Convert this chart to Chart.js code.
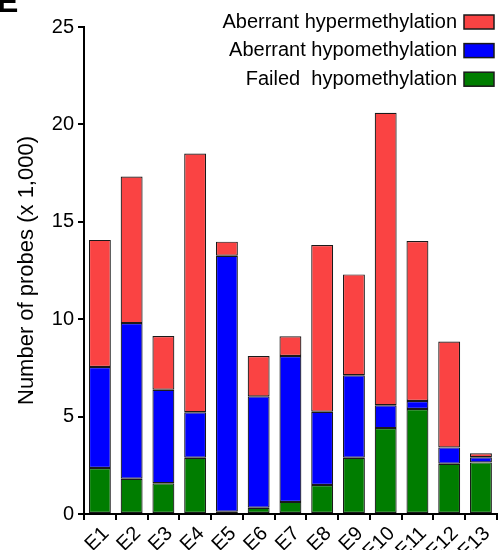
<!DOCTYPE html>
<html>
<head>
<meta charset="utf-8">
<script src="https://cdn.jsdelivr.net/npm/chart.js@4.4.1/dist/chart.umd.min.js"></script>
<style>
html,body{margin:0;padding:0;background:#fff;}
#wrap{width:500px;height:550px;position:relative;}
</style>
</head>
<body>
<div id="wrap"><canvas id="c" width="500" height="550"></canvas></div>
<script>
// data (x 1,000 probes)
var labels=["E1","E2","E3","E4","E5","E6","E7","E8","E9","E10","E11","E12","E13"];
var failedHypo=[2.36,1.81,1.58,2.89,0.12,0.32,0.62,1.49,2.89,4.41,5.39,2.58,2.65];
var aberrantHypo=[5.19,7.99,4.80,2.33,13.14,5.72,7.49,3.76,4.23,1.17,0.41,0.84,0.26];
var aberrantHyper=[6.52,7.52,2.76,13.28,0.72,2.07,1.01,8.56,5.18,15.02,8.21,5.43,0.21];
var seriesNames=["Failed  hypomethylation","Aberrant hypomethylation","Aberrant hypermethylation"];
var yMin=0,yMax=25,yStep=5;

var FONT="Arial, 'Liberation Sans', sans-serif";
var cols={green:"#007d00",blue:"#0000ff",red:"#fa4343",line:"#1a1a1a"};

// legend on the right, text then box, stacked top-down (top series first)
var sideLegend={
  id:"sideLegend",
  afterDraw:function(chart){
    var ctx=chart.ctx,ds=chart.data.datasets;
    ctx.save();
    ctx.font="20px "+FONT;
    ctx.textAlign="right";
    ctx.textBaseline="middle";
    var y0=22,dy=28.6;
    for(var i=ds.length-1,r=0;i>=0;i--,r++){
      var y=y0+r*dy;
      ctx.fillStyle="#000";
      ctx.fillText(ds[i].label,457,y);
      ctx.fillStyle=ds[i].backgroundColor;
      ctx.fillRect(464,y-7,30,14);
      ctx.strokeStyle=cols.line;
      ctx.lineWidth=1.5;
      ctx.strokeRect(464,y-7,30,14);
    }
    // panel letter, cut by the top edge
    ctx.font="bold 32px "+FONT;
    ctx.textAlign="left";
    ctx.textBaseline="alphabetic";
    ctx.fillStyle="#000";
    ctx.fillText("E",-3,12);
    ctx.restore();
  }
};

function mk(label,data,color){
  return{
    label:label,
    data:data,
    backgroundColor:color,
    borderColor:cols.line,
    borderWidth:1.2,
    borderSkipped:false,
    barPercentage:0.69,
    categoryPercentage:1.0
  };
}

new Chart(document.getElementById("c"),{
  type:"bar",
  data:{
    labels:labels,
    datasets:[
      mk(seriesNames[0],failedHypo,cols.green),
      mk(seriesNames[1],aberrantHypo,cols.blue),
      mk(seriesNames[2],aberrantHyper,cols.red)
    ]
  },
  options:{
    responsive:false,
    devicePixelRatio:1,
    animation:false,
    layout:{padding:{top:27,right:2,left:0,bottom:0}},
    plugins:{legend:{display:false},tooltip:{enabled:false}},
    scales:{
      x:{
        stacked:true,
        border:{color:"#000",width:2},
        grid:{display:true,drawOnChartArea:false,drawTicks:true,tickLength:6,color:"#000",lineWidth:2},
        ticks:{color:"#000",font:{family:FONT,size:20},minRotation:45,maxRotation:45,autoSkip:false,padding:2,labelOffset:6},
        afterFit:function(s){s.height=36;}
      },
      y:{
        stacked:true,
        min:yMin,max:yMax,
        border:{color:"#000",width:2},
        grid:{display:true,drawOnChartArea:false,drawTicks:true,tickLength:6,color:"#000",lineWidth:2},
        ticks:{stepSize:yStep,color:"#000",font:{family:FONT,size:20},padding:4},
        title:{display:true,text:"Number of probes (x 1,000)",color:"#000",font:{family:FONT,size:22},padding:{top:14,bottom:0}},
        afterFit:function(s){s.width=84;}
      }
    }
  },
  plugins:[sideLegend]
});
</script>
</body>
</html>
